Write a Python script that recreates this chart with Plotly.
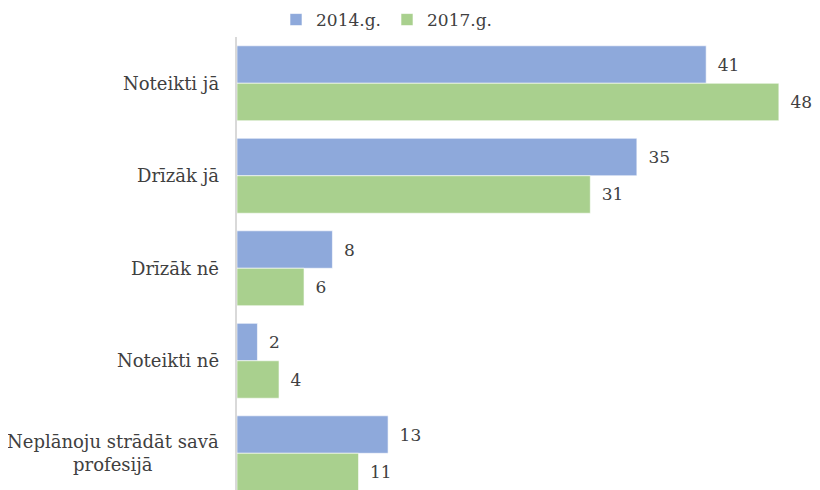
import plotly.graph_objects as go

categories = ["Noteikti jā", "Drīzāk jā", "Drīzāk nē", "Noteikti nē", "Neplānoju strādāt savā<br>profesijā"]
series_names = ["2014.g.", "2017.g."]
values_2014 = [41.3, 35.2, 8.4, 1.8, 13.3]
values_2017 = [47.7, 31.1, 5.9, 3.7, 10.7]
colors = ["#8EA9DB", "#A9D08E"]

FONT = "DejaVu Serif"
TXT = "#404040"

W, H = 812, 482  # page body has an 8px margin

fig = go.Figure()
for name, vals, col in zip(series_names, [values_2014, values_2017], colors):
    fig.add_trace(go.Bar(
        y=categories, x=vals, name=name, orientation="h",
        marker=dict(color=col, line=dict(color="white", width=0.6)),
        texttemplate="\u2002%{x:.0f}", textposition="outside",
        textfont=dict(family=FONT, size=17, color=TXT),
        cliponaxis=False,
    ))

for c in categories:
    fig.add_annotation(x=0, xref="paper", y=c, yref="y", text=c, showarrow=False,
                       xanchor="right", xshift=-16, align="center",
                       font=dict(family=FONT, size=18, color=TXT))

fig.update_layout(
    width=W, height=H,
    margin=dict(l=229, r=15, t=29, b=0, autoexpand=False),
    paper_bgcolor="white", plot_bgcolor="white",
    barmode="group", bargap=0.19, bargroupgap=0,
    showlegend=True,
    legend=dict(orientation="h", xref="container", yref="container",
                x=268/W, xanchor="left", y=1 - 12/H, yanchor="middle",
                font=dict(family=FONT, size=17, color=TXT), traceorder="normal",
                itemwidth=30, entrywidth=66),
    xaxis=dict(range=[0, 50], visible=False, showgrid=False, zeroline=False),
    yaxis=dict(range=[4.397, -0.5], showticklabels=False, showgrid=False, zeroline=False,
               showline=True, linecolor="#D9D9D9", linewidth=1.5, ticks=""),
)

fig.write_html("out.html")
